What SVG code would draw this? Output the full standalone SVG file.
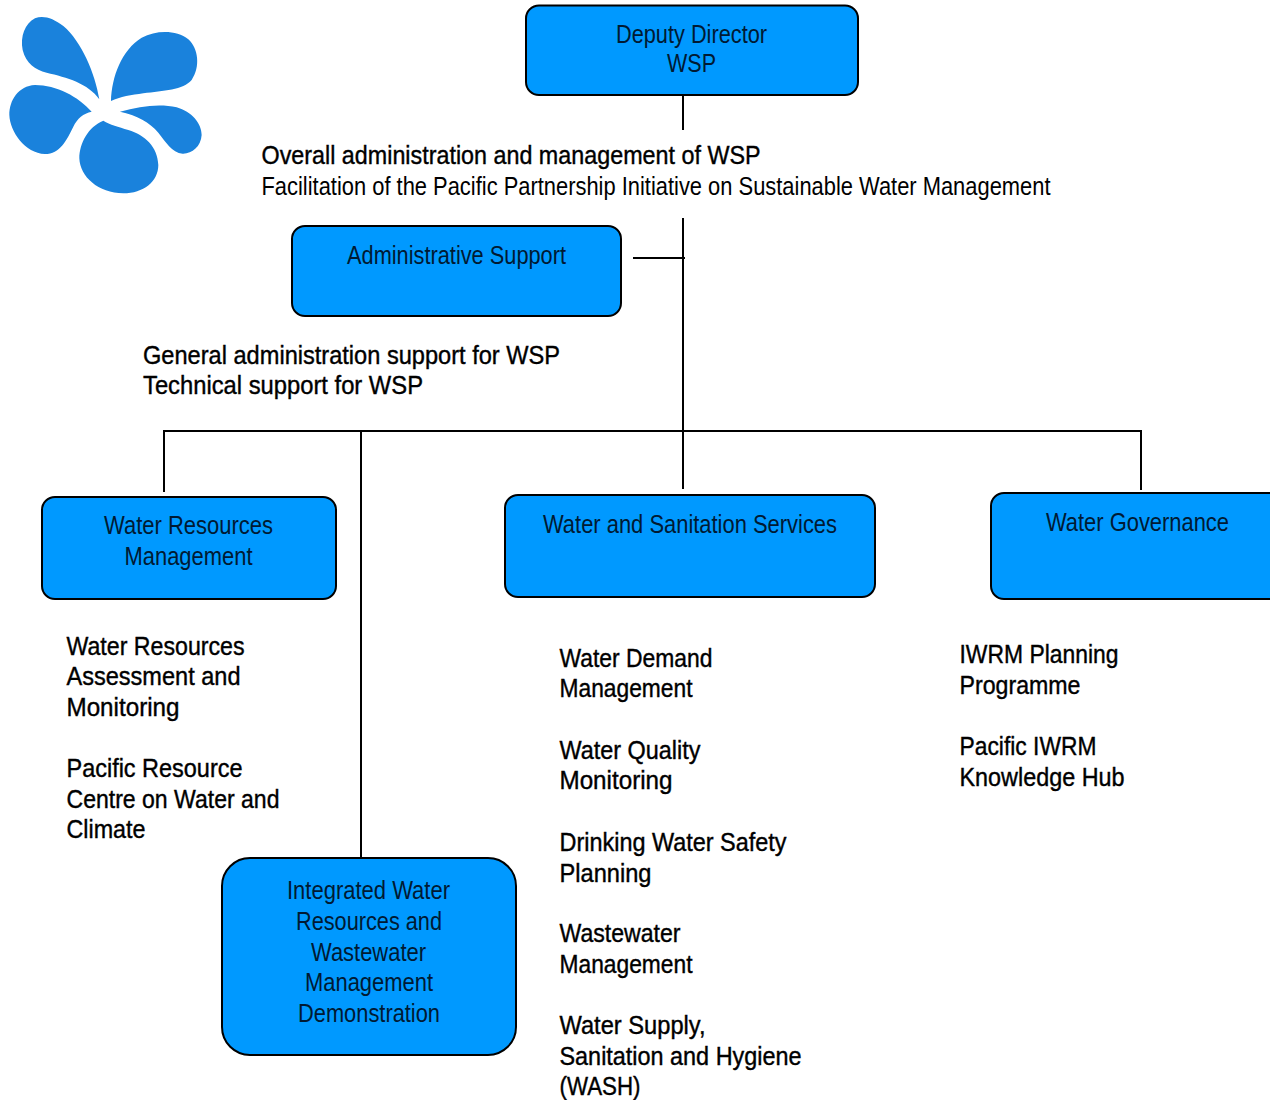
<svg xmlns="http://www.w3.org/2000/svg" width="1270" height="1100" viewBox="0 0 1270 1100">
<style>
.box{fill:#0099ff;stroke:#000;stroke-width:2}
.t{font-family:"Liberation Sans",Arial,sans-serif;font-size:26px;fill:#000}
.h{fill:#001a33}
.c{stroke:#000;stroke-width:2;fill:none}
.p{fill:#1a82dc}
</style>
<rect width="1270" height="1100" fill="#fff"/>
<g id="logo" transform="scale(0.3333)">
<path class="p" d="M298 298C285 220 245 125 190 78C160 55 130 45 105 55C75 70 60 110 68 150C78 190 105 210 140 218C200 232 265 250 298 298Z"/>
<path class="p" d="M333 303C335 230 365 150 425 113C470 90 530 90 565 118C595 145 602 200 575 240C550 270 490 272 430 280C395 285 360 290 333 303Z"/>
<path class="p" d="M275 335C235 290 170 255 105 255C55 258 28 300 28 345C30 395 75 460 135 462C180 462 200 420 220 380C232 355 250 340 275 335Z"/>
<path class="p" d="M310 362C265 380 238 430 238 475C240 530 295 580 370 580C430 580 475 545 475 495C473 440 435 405 385 390C355 380 330 375 310 362Z"/>
<path class="p" d="M360 335C420 318 480 310 530 322C575 335 605 370 605 405C603 440 575 462 548 461C515 458 497 425 475 398C450 368 410 345 360 335Z"/>
</g>
<g id="connectors" class="c">
<path d="M683 95V130"/>
<path d="M683 218V489"/>
<path d="M633 258H685"/>
<path d="M164 492V431H1141V490"/>
<path d="M361 431V858"/>
</g>
<g id="deputy-director"><rect class="box" x="526" y="5.500" width="332" height="89.500" rx="13"/>
<text class="t h" x="616" y="43" textLength="151" lengthAdjust="spacingAndGlyphs">Deputy Director</text>
<text class="t h" x="667" y="72" textLength="49" lengthAdjust="spacingAndGlyphs">WSP</text></g>
<g id="overall-text">
<text class="t" x="261.500" y="164" textLength="499" lengthAdjust="spacingAndGlyphs" stroke="#000" stroke-width="0.4">Overall administration and management of WSP</text>
<text class="t" x="261.500" y="195" textLength="789" lengthAdjust="spacingAndGlyphs" fill="#222">Facilitation of the Pacific Partnership Initiative on Sustainable Water Management</text></g>
<g id="administrative-support"><rect class="box" x="292" y="226" width="329" height="90" rx="13"/>
<text class="t h" x="347" y="264" textLength="219" lengthAdjust="spacingAndGlyphs">Administrative Support</text></g>
<g id="admin-text">
<text class="t" x="143" y="364" textLength="417" lengthAdjust="spacingAndGlyphs" stroke="#000" stroke-width="0.4">General administration support for WSP</text>
<text class="t" x="143" y="394" textLength="280" lengthAdjust="spacingAndGlyphs" stroke="#000" stroke-width="0.4">Technical support for WSP</text></g>
<g id="water-resources-management"><rect class="box" x="42" y="497" width="294" height="102" rx="13"/>
<text class="t h" x="104" y="534" textLength="169" lengthAdjust="spacingAndGlyphs">Water Resources</text>
<text class="t h" x="124.500" y="565" textLength="128" lengthAdjust="spacingAndGlyphs">Management</text></g>
<g id="water-sanitation-services"><rect class="box" x="505" y="495" width="370" height="102" rx="13"/>
<text class="t h" x="543" y="533" textLength="294" lengthAdjust="spacingAndGlyphs">Water and Sanitation Services</text></g>
<g id="water-governance"><rect class="box" x="991" y="493" width="295" height="106" rx="13"/>
<text class="t h" x="1046" y="531" textLength="183" lengthAdjust="spacingAndGlyphs">Water Governance</text></g>
<g id="iwrm-demonstration"><rect class="box" x="222" y="858" width="294" height="197" rx="28"/>
<text class="t h" x="287" y="899" textLength="163" lengthAdjust="spacingAndGlyphs">Integrated Water</text>
<text class="t h" x="296" y="930" textLength="146" lengthAdjust="spacingAndGlyphs">Resources and</text>
<text class="t h" x="311" y="961" textLength="115" lengthAdjust="spacingAndGlyphs">Wastewater</text>
<text class="t h" x="305" y="991" textLength="128" lengthAdjust="spacingAndGlyphs">Management</text>
<text class="t h" x="298" y="1022" textLength="142" lengthAdjust="spacingAndGlyphs">Demonstration</text></g>
<g id="wrm-list" stroke="#000" stroke-width="0.4">
<text class="t" x="66.500" y="655" textLength="178" lengthAdjust="spacingAndGlyphs">Water Resources</text>
<text class="t" x="66.500" y="685" textLength="174" lengthAdjust="spacingAndGlyphs">Assessment and</text>
<text class="t" x="66.500" y="716" textLength="113" lengthAdjust="spacingAndGlyphs">Monitoring</text>
<text class="t" x="66.500" y="777" textLength="176" lengthAdjust="spacingAndGlyphs">Pacific Resource</text>
<text class="t" x="66.500" y="808" textLength="213" lengthAdjust="spacingAndGlyphs">Centre on Water and</text>
<text class="t" x="66.500" y="838" textLength="79" lengthAdjust="spacingAndGlyphs">Climate</text></g>
<g id="wss-list" stroke="#000" stroke-width="0.4">
<text class="t" x="559.500" y="667" textLength="153" lengthAdjust="spacingAndGlyphs">Water Demand</text>
<text class="t" x="559.500" y="697" textLength="133" lengthAdjust="spacingAndGlyphs">Management</text>
<text class="t" x="559.500" y="759" textLength="141" lengthAdjust="spacingAndGlyphs">Water Quality</text>
<text class="t" x="559.500" y="789" textLength="113" lengthAdjust="spacingAndGlyphs">Monitoring</text>
<text class="t" x="559.500" y="851" textLength="227" lengthAdjust="spacingAndGlyphs">Drinking Water Safety</text>
<text class="t" x="559.500" y="882" textLength="92" lengthAdjust="spacingAndGlyphs">Planning</text>
<text class="t" x="559.500" y="942" textLength="121" lengthAdjust="spacingAndGlyphs">Wastewater</text>
<text class="t" x="559.500" y="973" textLength="133" lengthAdjust="spacingAndGlyphs">Management</text>
<text class="t" x="559.500" y="1034" textLength="146" lengthAdjust="spacingAndGlyphs">Water Supply,</text>
<text class="t" x="559.500" y="1065" textLength="242" lengthAdjust="spacingAndGlyphs">Sanitation and Hygiene</text>
<text class="t" x="559.500" y="1095" textLength="81" lengthAdjust="spacingAndGlyphs">(WASH)</text></g>
<g id="wg-list" stroke="#000" stroke-width="0.4">
<text class="t" x="959.500" y="663" textLength="159" lengthAdjust="spacingAndGlyphs">IWRM Planning</text>
<text class="t" x="959.500" y="694" textLength="121" lengthAdjust="spacingAndGlyphs">Programme</text>
<text class="t" x="959.500" y="755" textLength="137" lengthAdjust="spacingAndGlyphs">Pacific IWRM</text>
<text class="t" x="959.500" y="786" textLength="165" lengthAdjust="spacingAndGlyphs">Knowledge Hub</text></g>
</svg>
